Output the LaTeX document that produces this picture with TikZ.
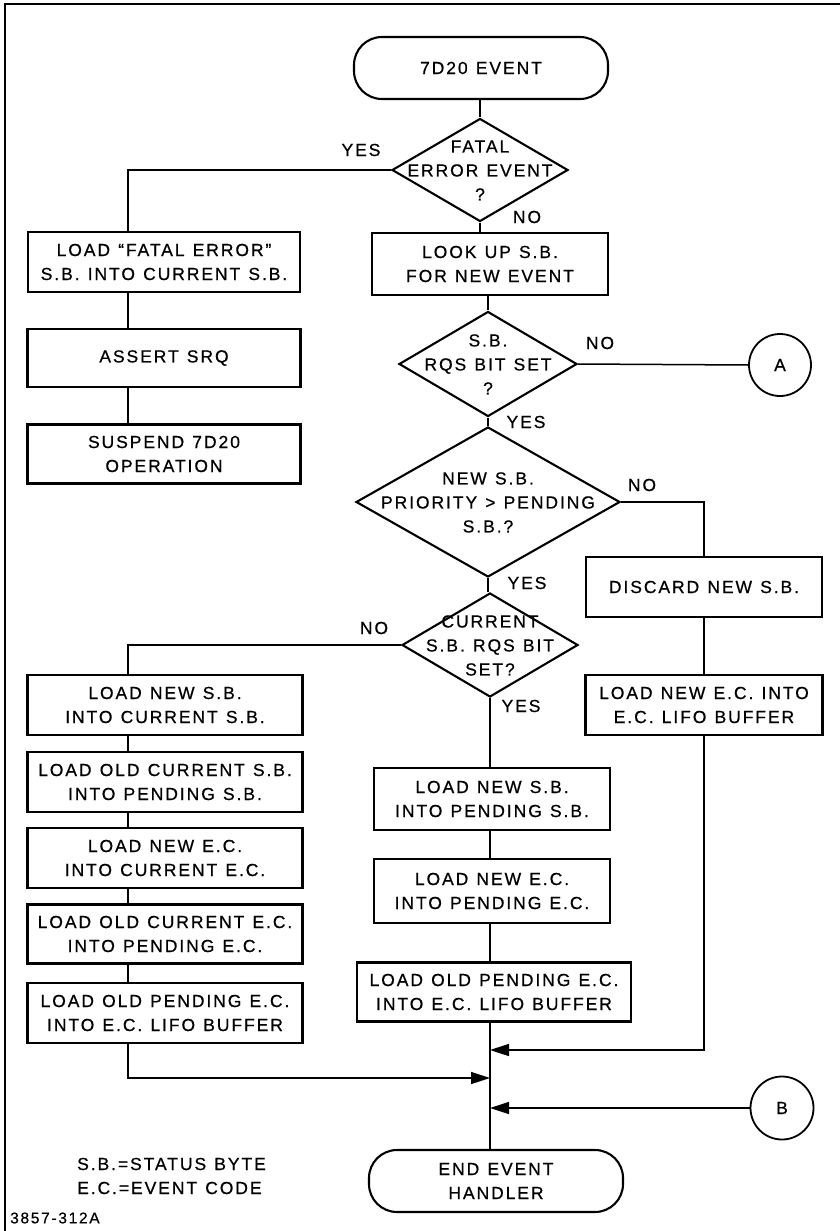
\documentclass[tikz,border=0pt]{standalone}
\usepackage{fontspec}
\setmainfont{Liberation Sans}[LetterSpace=11, WordSpace=1.2, FakeBold=0.6]
\usetikzlibrary{shapes.geometric,arrows.meta}
\newcommand\dtxt[1]{\raisebox{-6pt}[0pt][0pt]{\makebox[0pt]{\begin{tabular}{@{}c@{}}#1\end{tabular}}}}
\begin{document}
\begin{tikzpicture}[x=1pt,y=-1pt,
  every node/.style={font=\fontsize{17.5}{24}\selectfont},
  box/.style={draw, line width=2.1pt, rectangle, minimum height=60pt, inner sep=1pt, align=center},
  term/.style={draw, line width=2.1pt, rectangle, rounded corners=28pt, minimum width=254pt, minimum height=62pt, align=center},
  dia/.style={draw, line width=2.1pt, diamond, inner sep=0pt},
  conn/.style={draw, circle, line width=1.8pt, minimum size=62pt, inner sep=0pt},
  lbl/.style={inner sep=0pt},
  wire/.style={line width=1.5pt},
  arr/.style={wire, -{Triangle[length=19pt,width=12pt]}}
]
\useasboundingbox (0,0) rectangle (840,1231);
\fill[white] (0,0) rectangle (840,1231);
\draw[line width=1.6pt] (5,1231) -- (5,4) -- (840,4);

\coordinate (lx) at (128,0);
\coordinate (mx) at (490,0);
\coordinate (rx) at (704,0);

% top
\node[term] (t1) at (481,68) {7D20 EVENT};
\node[dia, minimum width=176pt, minimum height=103pt] (d1) at (480,170) {\dtxt{FATAL\\ERROR EVENT\\?}};
\node[lbl] (y1) at (361,150) {YES};
\node[lbl] (n1) at (527,217) {NO};

% left top column
\node[box, minimum width=272pt] (b1) at (164,262) {LOAD “FATAL ERROR”\\S.B. INTO CURRENT S.B.};
\node[box, minimum width=273pt, minimum height=58pt] (b2) at (164,358) {ASSERT SRQ};
\node[box, minimum width=273pt, minimum height=59pt] (b3) at (164,454) {SUSPEND 7D20\\OPERATION};

% middle
\node[box, minimum width=236pt, minimum height=62pt] (b4) at (490,264) {LOOK UP S.B.\\FOR NEW EVENT};
\node[dia, minimum width=178pt, minimum height=105pt] (d2) at (488,364) {\dtxt{S.B.\\RQS BIT SET\\?}};
\node[lbl] (n2) at (600,343) {NO};
\node[lbl] (y2) at (526,422) {YES};
\node[conn] (cA) at (780,365) {A};

\node[dia, minimum width=264pt, minimum height=150pt] (d3) at (488,502) {\dtxt{NEW S.B.\\PRIORITY > PENDING\\S.B.?}};
\node[lbl] (n3) at (642,485) {NO};
\node[lbl] (y3) at (527,583) {YES};

\node[box, minimum width=236pt] (b5) at (704,587) {DISCARD NEW S.B.};
\node[box, minimum width=237pt] (b6) at (704,705) {LOAD NEW E.C. INTO\\E.C. LIFO BUFFER};

\node[dia, minimum width=176pt, minimum height=104pt] (d4) at (490,645) {\dtxt{CURRENT\\S.B. RQS BIT\\SET?}};
\node[lbl] (n4) at (374,628) {NO};
\node[lbl] (y4) at (521,706) {YES};

% left lower column
\node[box, minimum width=275pt] (b7) at (165,705) {LOAD NEW S.B.\\INTO CURRENT S.B.};
\node[box, minimum width=275pt] (b8) at (165,782) {LOAD OLD CURRENT S.B.\\INTO PENDING S.B.};
\node[box, minimum width=275pt] (b9) at (165,858) {LOAD NEW E.C.\\INTO CURRENT E.C.};
\node[box, minimum width=275pt, minimum height=59pt] (b10) at (165,934) {LOAD OLD CURRENT E.C.\\INTO PENDING E.C.};
\node[box, minimum width=275pt] (b11) at (165,1013) {LOAD OLD PENDING E.C.\\INTO E.C. LIFO BUFFER};

% middle lower column
\node[box, minimum width=236pt, minimum height=62pt] (b12) at (492,799) {LOAD NEW S.B.\\INTO PENDING S.B.};
\node[box, minimum width=236pt, minimum height=64pt] (b13) at (492,891) {LOAD NEW E.C.\\INTO PENDING E.C.};
\node[box, minimum width=274pt, minimum height=59pt] (b14) at (494,992) {LOAD OLD PENDING E.C.\\INTO E.C. LIFO BUFFER};

\node[term] (t2) at (496,1181) {END EVENT\\HANDLER};
\node[conn, minimum size=63pt] (cB) at (782,1108) {B};

\coordinate (j1) at (490,1050);
\coordinate (j2) at (490,1078);
\coordinate (j3) at (490,1108);

% legend
\node[lbl, anchor=west, align=left] (leg) at (77,1176) {S.B.=STATUS BYTE\\E.C.=EVENT CODE};
\node[lbl, font=\fontsize{15.5}{16}\selectfont, anchor=west] (fig) at (10,1218) {3857-312A};

% connectors
\draw[wire] (t1.south -| d1) -- (d1.north);
\draw[wire] (d1.west) -| (b1.north -| lx);
\draw[wire] (d1.south) -- (d1.south |- b4.north);
\draw[wire] (b1.south -| lx) -- (b2.north -| lx);
\draw[wire] (b2.south -| lx) -- (b3.north -| lx);
\draw[wire] (b4.south -| d2) -- (d2.north);
\draw[wire] (d2.east) -- (cA.west);
\draw[wire] (d2.south) -- (d3.north);
\draw[wire] (d3.east) -| (b5.north);
\draw[wire] (d3.south) -- (d3.south |- d4.north);
\draw[wire] (b5.south) -- (b6.north);
\draw[wire] (d4.west) -| (b7.north -| lx);
\draw[wire] (b7.south -| lx) -- (b8.north -| lx);
\draw[wire] (b8.south -| lx) -- (b9.north -| lx);
\draw[wire] (b9.south -| lx) -- (b10.north -| lx);
\draw[wire] (b10.south -| lx) -- (b11.north -| lx);
\draw[wire] (d4.south) -- (b12.north -| mx);
\draw[wire] (b12.south -| mx) -- (b13.north -| mx);
\draw[wire] (b13.south -| mx) -- (b14.north -| mx);
\draw[wire] (b14.south -| mx) -- (t2.north -| mx);
\draw[arr] (b6.south) |- (j1);
\draw[arr] (b11.south -| lx) |- (j2);
\draw[arr] (cB.west) -- (j3);
\end{tikzpicture}
\end{document}
